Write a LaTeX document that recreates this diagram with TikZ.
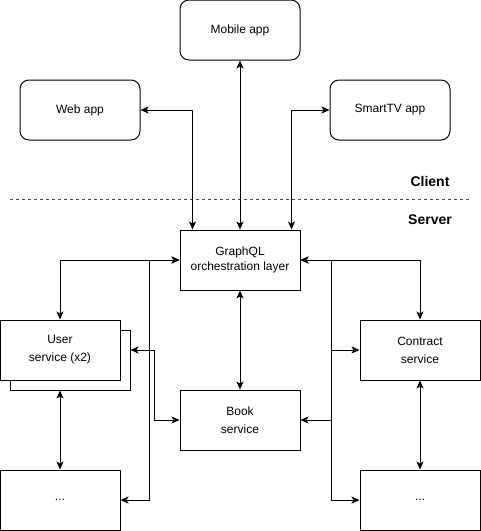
\documentclass[tikz,border=0pt]{standalone}
\usepackage{fontspec}
\setmainfont{Liberation Sans}
\usetikzlibrary{arrows.meta,calc}
\begin{document}
\begin{tikzpicture}[x=1pt,y=-1pt,
  every node/.style={font=\fontsize{12}{14.5}\selectfont},
  clientbox/.style={draw,line width=1pt,rounded corners=9pt,minimum width=120pt,minimum height=60pt,align=center,inner sep=0pt},
  serverbox/.style={draw,line width=1pt,minimum width=120pt,minimum height=60pt,align=center,inner sep=0pt,fill=white},
  conn/.style={line width=1pt,{Stealth[length=8pt,width=7pt,inset=2pt]}-{Stealth[length=8pt,width=7pt,inset=2pt]}},
  tier/.style={font=\fontsize{14}{16}\selectfont\bfseries}
]
\useasboundingbox (0,0) rectangle (481,531);

% client
\node[clientbox] (mobile) at (240,30) {Mobile app};
\node[clientbox] (web) at (80,110) {Web app};
\node[clientbox] (tv) at (390,110) {SmartTV app};

\node[tier] (client) at (430,181) {Client};
\node[tier] (server) at (430,220) {Server};
\coordinate (dl) at (10,199);
\coordinate (dr) at (470,199);
\draw[line width=1pt,dash pattern=on 3pt off 3pt,black!70] (dl) -- (dr);

% server
\node[serverbox] (gql) at (240,260) {GraphQL\\orchestration layer};
\node[serverbox] (userback) at (70,360) {};
\node[serverbox] (user) at (60,350) {User\\[3.5pt]service (x2)};
\node[serverbox] (book) at (240,420) {Book\\[3.5pt]service};
\node[serverbox] (contract) at (420,350) {Contract\\[3.5pt]service};
\node[serverbox] (ldots) at (60,500) {...};
\node[serverbox] (rdots) at (420,500) {...};

% connectors
\draw[conn] (mobile.south) -- (gql.north);
\draw[conn] (web.east) -| ([xshift=13pt]gql.north west);
\draw[conn] (tv.west) -| ([xshift=-9pt]gql.north east);
\draw[conn] (gql.west) -| (user.north);
\draw[conn] (gql.east) -| (contract.north);
\draw[conn] (gql.west) -- ([xshift=-30pt]gql.west) |- (ldots.east);
\draw[conn] (gql.east) -- ([xshift=31pt]gql.east) |- (rdots.west);
\draw[conn] (gql.south) -- (book.north);
\draw[conn] (book.west) -- ([xshift=-25pt]book.west) |- (user.east -| userback.east);
\draw[conn] (book.east) -- ([xshift=31pt]book.east) |- (contract.west);
\draw[conn] (user.south |- userback.south) -- (ldots.north);
\draw[conn] (contract.south) -- (rdots.north);
\end{tikzpicture}
\end{document}
